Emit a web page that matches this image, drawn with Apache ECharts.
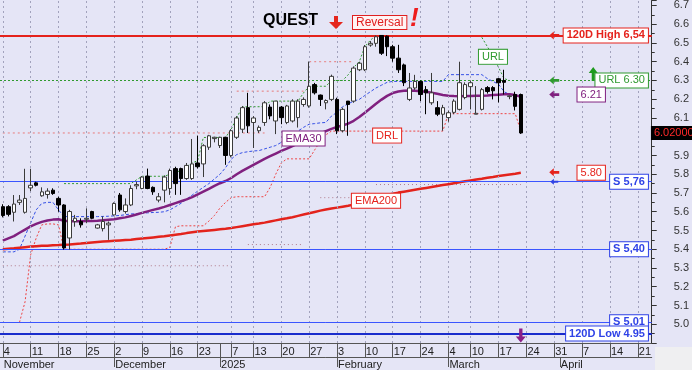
<!DOCTYPE html>
<html><head><meta charset="utf-8">
<script src="https://cdn.jsdelivr.net/npm/echarts@6/dist/echarts.min.js"></script>
<style>html,body{margin:0;padding:0;background:#e5e5f6;}#c{width:692px;height:370px;}</style>
</head><body><div id="c"></div><script>
// ---------- categories (trading days) ----------
const days = [
'11-04','11-05','11-06','11-07','11-08','11-11','11-12','11-13','11-14','11-15',
'11-18','11-19','11-20','11-21','11-22','11-25','11-26','11-27','11-28','11-29',
'12-02','12-03','12-04','12-05','12-06','12-09','12-10','12-11','12-12','12-13',
'12-16','12-17','12-18','12-19','12-20','12-23','12-24','12-27','12-30',
'01-02','01-03','01-07','01-08','01-09','01-10',
'01-13','01-14','01-15','01-16','01-17','01-20','01-21','01-22','01-23','01-24',
'01-27','01-28','01-29','01-30','01-31','02-03','02-04','02-05','02-06','02-07',
'02-10','02-11','02-12','02-13','02-14','02-17','02-18','02-19','02-20','02-21',
'02-24','02-25','02-26','02-27','02-28','03-04','03-05','03-06','03-07',
'03-10','03-11','03-12','03-13','03-14','03-17','03-18','03-19','03-20','03-21',
'03-24','03-25','03-26','03-27','03-28','03-31','04-01','04-02','04-03','04-04',
'04-07','04-08','04-09','04-10','04-11','04-14','04-15','04-16','04-17','04-18',
'04-21','04-22','04-23'];
const weekStarts = ['11-04','11-11','11-18','11-25','12-02','12-09','12-16','12-23','01-07','01-13','01-20','01-27','02-03','02-10','02-17','02-24','03-04','03-10','03-17','03-24','03-31','04-07','04-14','04-21'];
const weekLabels = ['4','11','18','25','2','9','16','23','7','13','20','27','3','10','17','24','4','10','17','24','31','7','14','21'];
const yearBreak = '01-02';
const monthStarts = ['11-04','12-02','01-02','02-03','03-04','04-01'];
const monthLabels = ['November','December','2025','February','March','April'];

// ---------- OHLC ----------
const opens = [5.627,5.627,5.597,5.650,5.597,5.727,5.754,5.685,5.692,5.715,
 5.671,5.636,5.460,5.548,5.548,5.560,5.601,5.513,5.510,5.530,
 5.583,5.689,5.601,5.636,5.738,5.724,5.790,5.730,5.662,5.715,
 5.724,5.830,5.830,5.777,5.777,5.860,5.855,5.944,5.990,5.953,
 5.997,5.900,5.997,6.040,6.155,6.076,6.032,6.076,6.158,6.084,
 6.158,6.076,6.084,6.102,6.172,6.164,6.278,6.222,6.181,6.199,
 6.199,6.032,6.190,6.190,6.357,6.357,6.489,6.498,6.540,6.536,
 6.480,6.419,6.383,6.199,6.260,6.295,6.251,6.181,6.155,6.120,
 6.102,6.130,6.146,6.209,6.267,6.120,6.146,6.262,6.262,6.309,
 6.300,6.214,6.225,6.225];
const closes = [5.580,5.586,5.641,5.662,5.671,5.741,5.741,5.706,5.710,5.697,
 5.636,5.407,5.601,5.565,5.530,5.565,5.565,5.530,5.548,5.539,
 5.644,5.610,5.636,5.724,5.745,5.785,5.724,5.706,5.680,5.785,
 5.820,5.750,5.777,5.847,5.855,5.840,5.952,6.005,5.997,5.997,
 5.900,6.032,6.100,6.155,6.058,6.100,6.050,6.181,6.111,6.190,
 6.102,6.164,6.190,6.190,6.199,6.269,6.234,6.199,6.193,6.322,
 6.032,6.146,6.172,6.366,6.392,6.480,6.498,6.533,6.445,6.480,
 6.419,6.357,6.288,6.260,6.295,6.225,6.234,6.234,6.120,6.155,
 6.128,6.190,6.288,6.278,6.288,6.125,6.251,6.241,6.245,6.288,
 6.290,6.218,6.162,6.020];
const lows = [5.570,5.575,5.548,5.636,5.590,5.710,5.735,5.680,5.670,5.690,
 5.600,5.398,5.398,5.520,5.515,5.539,5.560,5.510,5.495,5.450,
 5.580,5.600,5.590,5.630,5.720,5.720,5.720,5.690,5.650,5.650,
 5.690,5.690,5.690,5.770,5.770,5.830,5.785,5.930,5.970,5.940,
 5.850,5.890,5.988,6.020,6.020,5.940,6.020,6.058,6.093,6.014,
 6.067,6.067,6.076,6.049,6.160,6.155,6.225,6.164,6.146,6.190,
 6.014,6.023,6.005,6.181,6.350,6.350,6.480,6.480,6.436,6.430,
 6.400,6.340,6.270,6.190,6.250,6.190,6.120,6.170,6.110,6.032,
 6.080,6.120,6.140,6.200,6.146,6.120,6.140,6.230,6.199,6.183,
 6.225,6.200,6.140,6.015];
const highs = [5.640,5.635,5.689,5.689,5.829,5.829,5.760,5.730,5.725,5.725,
 5.680,5.640,5.610,5.583,5.565,5.618,5.605,5.535,5.575,5.548,
 5.650,5.700,5.671,5.741,5.760,5.790,5.830,5.735,5.700,5.794,
 5.830,5.840,5.835,5.860,5.988,6.006,5.960,6.010,6.000,6.000,
 6.000,6.040,6.110,6.164,6.234,6.110,6.060,6.190,6.172,6.190,
 6.164,6.170,6.200,6.200,6.210,6.401,6.287,6.225,6.199,6.331,
 6.208,6.155,6.190,6.375,6.400,6.489,6.510,6.540,6.540,6.540,
 6.490,6.490,6.390,6.340,6.330,6.300,6.270,6.340,6.190,6.170,
 6.140,6.200,6.400,6.290,6.300,6.270,6.260,6.270,6.270,6.313,
 6.357,6.220,6.240,6.230];

// ---------- indicator lines ----------
const ema30 = [5.446,5.458,5.470,5.488,5.505,5.522,5.535,5.546,5.553,5.558,
 5.560,5.552,5.549,5.549,5.549,5.550,5.551,5.552,5.554,5.557,
 5.560,5.565,5.570,5.577,5.585,5.594,5.602,5.610,5.617,5.626,
 5.636,5.646,5.656,5.666,5.678,5.692,5.707,5.722,5.738,5.752,
 5.764,5.780,5.800,5.818,5.834,5.850,5.866,5.882,5.896,5.910,
 5.924,5.937,5.950,5.964,5.978,5.993,6.006,6.018,6.030,6.042,
 6.052,6.060,6.070,6.085,6.105,6.128,6.152,6.176,6.198,6.218,
 6.233,6.241,6.245,6.246,6.245,6.243,6.240,6.235,6.229,6.223,
 6.219,6.217,6.216,6.217,6.217,6.218,6.219,6.220,6.222,6.224,
 6.226,6.226,6.222,6.213];
const ema200 = [5.400,5.403,5.405,5.408,5.411,5.414,5.416,5.418,5.419,5.421,
 5.422,5.424,5.425,5.428,5.430,5.433,5.436,5.439,5.441,5.443,
 5.445,5.447,5.449,5.451,5.454,5.457,5.460,5.463,5.466,5.469,
 5.473,5.477,5.481,5.486,5.490,5.494,5.497,5.500,5.503,5.506,
 5.509,5.513,5.518,5.523,5.528,5.533,5.537,5.542,5.548,5.554,
 5.560,5.565,5.571,5.578,5.585,5.592,5.599,5.606,5.612,5.617,
 5.622,5.627,5.632,5.638,5.645,5.653,5.662,5.671,5.680,5.689,
 5.696,5.702,5.707,5.712,5.717,5.722,5.727,5.732,5.737,5.742,
 5.747,5.752,5.757,5.762,5.767,5.772,5.776,5.781,5.785,5.790,
 5.795,5.799,5.803,5.808];
const trailBlue = [5.386,5.386,5.386,5.400,5.470,5.540,5.610,5.645,5.650,5.650,
 5.610,5.574,5.574,5.574,5.574,5.574,5.574,5.574,5.575,5.576,
 5.578,5.580,5.584,5.588,5.590,5.592,5.594,5.596,5.597,5.600,
 5.610,5.627,5.645,5.667,5.689,5.710,5.730,5.750,5.775,5.800,
 5.835,5.880,5.905,5.915,5.920,5.924,5.926,5.935,5.944,5.953,
 5.970,5.990,6.005,6.030,6.050,6.067,6.070,6.074,6.076,6.110,
 6.130,6.160,6.175,6.190,6.199,6.220,6.240,6.260,6.275,6.290,
 6.295,6.295,6.295,6.295,6.295,6.295,6.295,6.295,6.295,6.295,
 6.331,6.331,6.331,6.331,6.331,6.331,6.331,6.310,6.295,6.280,
 6.240,6.225,6.225,6.225];
const urlTrail = [null,null,null,null,null,null,null,null,null,null,
 null,5.75,5.75,5.75,5.75,5.75,5.75,5.75,5.75,5.75,
 5.75,5.75,5.75,5.75,5.77,5.789,5.789,5.789,5.789,5.789,
 5.80,5.81,5.82,5.84,5.86,5.873,5.996,5.996,5.996,5.996,
 5.996,6.04,6.10,6.16,6.16,6.16,6.16,6.16,6.19,6.19,
 6.19,6.19,6.19,6.19,6.234,6.269,6.269,6.269,6.269,6.30,
 6.30,6.30,6.33,6.37,6.40,6.48,6.515,6.54,null,null,
 null,null,null,null,null,null,null,null,null,null,
 null,null,null,null,null,null,6.53,6.48,6.43,6.37,
 6.31,6.30,null,null];
const drlTrail = [null,null,null,5.01,5.12,5.37,5.46,5.53,5.535,5.535,
 5.53,5.40,5.40,5.40,5.40,5.40,5.40,5.40,5.40,5.40,
 5.40,5.40,5.40,5.40,5.40,5.40,5.40,5.40,5.40,5.40,
 5.41,5.52,5.525,5.525,5.525,5.525,5.525,5.55,5.58,5.62,
 5.65,5.675,5.68,5.68,5.68,5.68,5.68,5.68,5.73,5.80,
 5.86,5.882,5.882,5.882,5.882,5.882,5.93,5.975,6.01,6.03,
 6.03,6.03,6.03,6.03,6.03,6.03,6.03,6.03,6.03,6.03,
 6.03,6.03,6.03,6.03,6.03,6.03,6.03,6.03,6.03,6.03,
 6.123,6.123,6.123,6.123,6.123,6.123,6.123,6.123,6.123,6.123,
 6.123,6.123,6.123,6.03];
const resistA = [6.02,6.02,6.02,6.02,6.02,6.02,6.02,6.02,6.02,6.02,
 6.02,6.02,6.02,6.02,6.02,6.02,6.02,6.02,6.02,6.02,
 6.02,6.02,6.02,6.02,6.02,6.02,6.02,6.02,6.02,6.02,
 6.02,6.02,6.02,6.02,6.02,6.02,6.02,6.02,6.02,6.02,
 6.02,6.02,6.02,6.02,6.02,6.02,6.02,6.02,null,null,
 null,null,null,null,null,6.40,6.40,6.40,6.40,6.40,
 6.40,6.40,6.40,6.40,null,null,null,null,null,null,
 null,null,null,null,null,null,null,null,null,null,
 null,null,null,null,null,null,null,null,null,null,
 null,null,null,null];
const resistB = [null,null,null,null,null,null,null,null,null,null,
 null,null,null,null,null,null,null,null,null,null,
 null,null,null,null,null,null,null,null,null,null,
 null,null,null,null,null,null,null,null,null,null,
 null,null,6.243,6.243,6.243,6.243,6.243,6.243,6.243,6.243,
 6.243,6.243,6.243,6.243,6.243,null,null,null,null,null];
const supportDots = [5.312,5.312,5.312,5.312,5.312,5.312,5.312,5.312,5.312,5.312,
 5.312,5.312,5.312,5.312,5.312,5.312,5.312,5.312,5.312,5.312,
 5.312,5.312,5.312,5.312,5.312,5.312,5.312,5.312,5.312,5.312,
 5.312,5.312,5.312,5.312,5.312,5.312,5.312,5.312,5.312,5.312,
 5.312,5.312,null,null,5.425,5.425,5.425,5.425,5.425,5.425,
 5.425,5.425,5.425,5.425,5.425,null,null,5.675,5.675,5.675,
 5.675,5.675,5.675,5.675,5.675,null,null,5.745,5.745,5.745,
 5.745,5.745,5.745,5.745,5.745,5.745,5.745,5.745,5.745,5.745,
 5.745,5.745,5.745,5.745,5.745,5.745,5.745,5.745,5.745,5.745,
 5.745,5.745,5.745,5.745];

// ---------- horizontal levels & tags ----------
const levelValues = [6.54, 6.30, 5.76, 5.40, 5.01, 4.95];
const levelTexts = ['120D High 6,54', 'URL 6.30', 'S 5,76', 'S 5,40', 'S 5,01', '120D Low 4.95'];
const emaTagValues = [6.225, 5.808];
const emaTagTexts = ['6.21', '5.80'];
const lastClose = 6.02;
const lastCloseText = '6.02000';

// ---------- drawing ----------
const FONT = '"Liberation Sans", Arial, sans-serif';
const RED = '#e5221c', GREEN = '#2f9a2f', BLUE = '#2f42e6', PURPLE = '#80207f';
const levelColors = [RED, GREEN, BLUE, BLUE, BLUE, BLUE];
const levelStyles = [
  {color: RED, width: 2, type: 'solid'},
  {color: GREEN, width: 1, type: [2, 2]},
  {color: '#3b55ff', width: 1, type: 'solid'},
  {color: '#3b55ff', width: 1, type: 'solid'},
  {color: '#3b55ff', width: 1, type: 'solid'},
  {color: '#1a2ccc', width: 2, type: 'solid'}
];
const levelBold = [true, false, true, true, true, true];

const weekSet = new Set(weekStarts);
const tickSet = new Set(weekStarts.concat([yearBreak]));
const monthSet = new Set(monthStarts);
const monthTickSet = new Set(monthStarts.slice(1));
const LAST = days.length - 1;

const candleData = opens.map((o, i) => [o, closes[i], lows[i], highs[i]]);

function tag(idx, val, text, color, o) {
  o = o || {};
  return {
    coord: [days[idx], val], symbol: 'rect', symbolSize: 0,
    label: {
      show: true, position: o.pos || 'left', distance: o.dist == null ? 1 : o.dist,
      formatter: text, color: o.textColor || color, backgroundColor: o.bg || '#ffffff',
      borderColor: o.border || color, borderWidth: o.noBorder ? 0 : 1,
      padding: [2, 3, 1, 3], fontSize: 11, lineHeight: 11,
      fontWeight: o.bold ? 'bold' : 'normal', fontFamily: FONT
    }
  };
}
const LEFT_ARROW = 'path://M0,4 L5,0 L5,2.6 L11,2.6 L11,5.4 L5,5.4 L5,8 Z';
const UP_ARROW = 'path://M4.5,0 L9,6 L6,6 L6,14 L3,14 L3,6 L0,6 Z';
const DOWN_ARROW = 'path://M3,0 L6,0 L6,8 L9,8 L4.5,14 L0,8 L3,8 Z';
function arrow(idx, val, path, size, color) {
  return {coord: [days[idx], val], symbol: path, symbolSize: size, symbolKeepAspect: false,
          itemStyle: {color: color}, label: {show: false}};
}

const markPoints = [];
levelValues.forEach((v, i) => markPoints.push(tag(LAST, v, levelTexts[i], levelColors[i], {bold: levelBold[i]})));
markPoints.push(tag(103, emaTagValues[0], emaTagTexts[0], PURPLE, {pos: 'right', dist: 1}));
markPoints.push(tag(103, emaTagValues[1], emaTagTexts[1], RED, {pos: 'right', dist: 1}));
markPoints.push(tag(LAST, lastClose, lastCloseText, '#000', {pos: 'right', dist: 2, textColor: '#ff2a2a', bg: '#000000', noBorder: true}));
markPoints.push(tag(54, 5.99, 'EMA30', PURPLE, {pos: 'inside'}));
markPoints.push(tag(69, 6.006, 'DRL', RED, {pos: 'inside'}));
markPoints.push(tag(67, 5.658, 'EMA200', RED, {pos: 'inside'}));
markPoints.push(tag(88, 6.426, 'URL', GREEN, {pos: 'inside'}));
markPoints.push(arrow(99, 6.54, LEFT_ARROW, [10, 8], RED));
markPoints.push(arrow(99, 6.30, LEFT_ARROW, [10, 8], GREEN));
markPoints.push(arrow(99, emaTagValues[0], LEFT_ARROW, [10, 8], PURPLE));
markPoints.push(arrow(99, 5.81, LEFT_ARROW, [10, 8], RED));
markPoints.push(arrow(99, 5.76, LEFT_ARROW, [8, 6], BLUE));
markPoints.push(arrow(106, 6.335, UP_ARROW, [9, 14], '#1e9a1e'));
markPoints.push(arrow(93, 4.94, DOWN_ARROW, [10, 14], '#8a1f86'));

function dotted(name, data, color, dash, z) {
  return {name: name, type: 'line', data: data, symbol: 'none', connectNulls: false,
          lineStyle: {color: color, width: 1, type: dash}, z: z, silent: true};
}

const option = {
  animation: false,
  backgroundColor: '#e5e5f6',
  grid: {left: 0, right: 38, top: 0, bottom: 24},
  xAxis: [
    {type: 'category', data: days, boundaryGap: true, position: 'bottom',
     axisLine: {show: true, lineStyle: {color: '#555', width: 1}},
     axisTick: {show: true, alignWithLabel: true, length: 14, interval: (i, v) => tickSet.has(v), lineStyle: {color: '#555'}},
     axisLabel: {show: true, interval: (i, v) => weekSet.has(v),
                 formatter: v => { const k = weekStarts.indexOf(v); return k >= 0 ? weekLabels[k] : ''; },
                 align: 'left', margin: 3, color: '#222', fontSize: 11, fontFamily: FONT, padding: [0, 0, 0, 1]},
     splitLine: {show: false}},
    {type: 'category', data: days, boundaryGap: true, position: 'bottom', offset: 14,
     axisLine: {show: true, lineStyle: {color: '#555', width: 1}},
     axisTick: {show: true, alignWithLabel: true, length: 10, interval: (i, v) => monthTickSet.has(v), lineStyle: {color: '#555'}},
     axisLabel: {show: true, interval: (i, v) => monthSet.has(v),
                 formatter: v => { const k = monthStarts.indexOf(v); return k >= 0 ? monthLabels[k] : ''; },
                 align: 'left', margin: 2, color: '#222', fontSize: 11, fontFamily: FONT, padding: [0, 0, 0, 1]},
     splitLine: {show: false}}
  ],
  yAxis: {
    type: 'value', position: 'right', min: 4.9, max: 6.726, interval: 0.1,
    axisLine: {show: true, lineStyle: {color: '#333'}},
    axisTick: {show: true, length: 5, lineStyle: {color: '#333'}},
    minorTick: {show: true, splitNumber: 2, length: 3, lineStyle: {color: '#333'}},
    axisLabel: {margin: 22, color: '#333', fontSize: 11, fontFamily: FONT,
      formatter: v => { const r = Math.round(v * 10) / 10; if (Math.abs(v - r) > 1e-6 || r < 4.95) return ''; return r.toFixed(1); }},
    splitLine: {show: false}, minorSplitLine: {show: false}
  },
  graphic: [
    {type: 'rect', left: 655, top: 347, shape: {width: 37, height: 23}, style: {fill: '#efeff1'}, z: 0},
    {type: 'text', left: 263, top: 13, style: {text: 'QUEST', font: 'bold 16px ' + FONT, fill: '#000'}, z: 20},
    {type: 'polygon', shape: {points: [[334, 16], [338, 16], [338, 22], [343, 22], [336, 29], [329, 22], [334, 22]]}, style: {fill: '#e5261d'}, z: 20},
    {type: 'text', left: 352, top: 15, style: {text: 'Reversal', font: '12px ' + FONT, fill: '#e02020', backgroundColor: '#fff4f4', borderColor: '#e02020', borderWidth: 1, padding: [1, 3, 0, 3]}, z: 20},
    {type: 'text', left: 410, top: 6, style: {text: '!', font: 'italic bold 26px ' + FONT, fill: '#ee1c1c'}, z: 20}
  ],
  series: [
    {name: 'grid', type: 'line', data: [], z: 1, silent: true,
     markLine: {silent: true, symbol: ['none', 'none'], label: {show: false}, animation: false,
       lineStyle: {color: '#a2a2bc', type: [2, 3], width: 1},
       data: weekStarts.map(d => ({xAxis: d}))}},
    dotted('support', supportDots, '#b07a8a', [1, 3], 2),
    dotted('resistA', resistA, '#e87878', [2, 3], 2),
    dotted('resistB', resistB, '#e87878', [2, 3], 2),
    dotted('drl', drlTrail, '#ee4444', [2, 2], 2),
    dotted('url', urlTrail, GREEN, [2, 2], 2),
    dotted('trail', trailBlue, '#3550e6', [3, 2], 2),
    {name: 'levels', type: 'line', data: [], z: 3, silent: true,
     markLine: {silent: true, symbol: ['none', 'none'], label: {show: false}, animation: false,
       data: levelValues.map((v, i) => ({yAxis: v, lineStyle: levelStyles[i]}))}},
    {name: 'EMA200', type: 'line', data: ema200, symbol: 'none', lineStyle: {color: '#e3231c', width: 2.5}, z: 4},
    {name: 'EMA30', type: 'line', data: ema30, symbol: 'none', lineStyle: {color: PURPLE, width: 2.5}, z: 4},
    {name: 'QUEST', type: 'candlestick', data: candleData, barWidth: 4, z: 5,
     itemStyle: {color: '#ffffff', color0: '#000000', borderColor: '#3a3a3a', borderColor0: '#000000', borderWidth: 1}},
    {name: 'tags', type: 'line', data: [], z: 10, silent: true,
     markPoint: {silent: true, animation: false, data: markPoints}}
  ]
};
const chart = echarts.init(document.getElementById('c'), null, {renderer: 'canvas'});
chart.setOption(option);
</script></body></html>
